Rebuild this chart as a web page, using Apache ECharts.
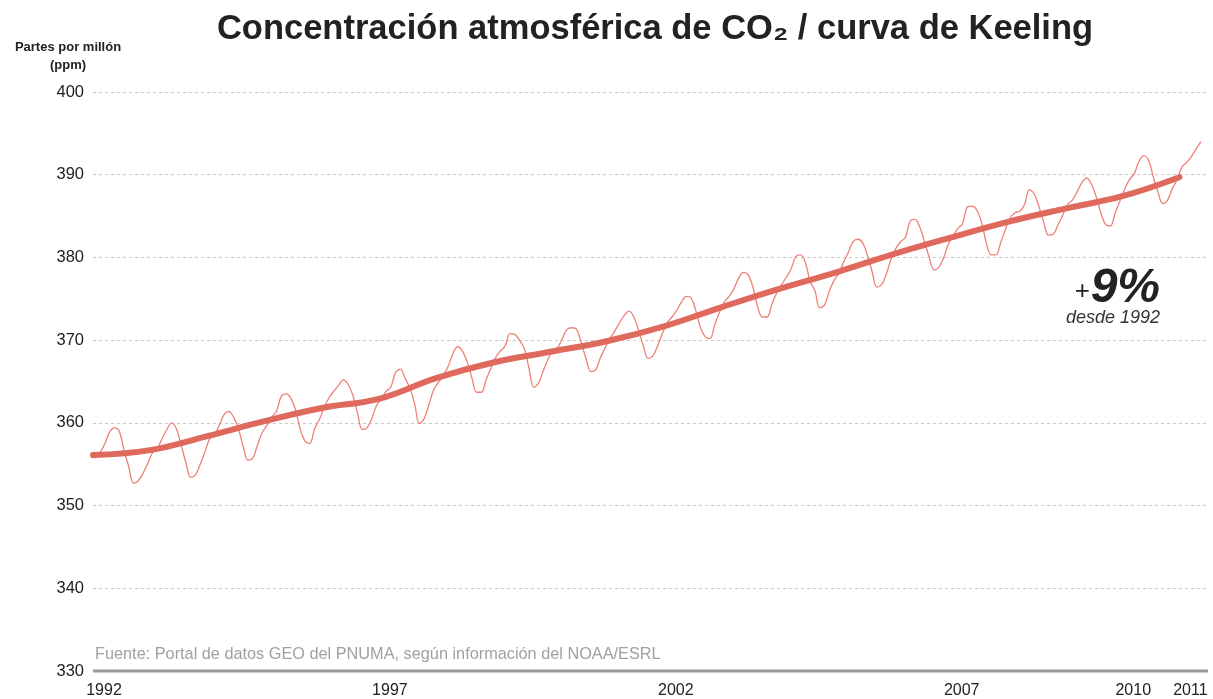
<!DOCTYPE html>
<html>
<head>
<meta charset="utf-8">
<title>Curva de Keeling</title>
<script src="https://cdn.jsdelivr.net/npm/echarts@6/dist/echarts.min.js"></script>
<style>
    html, body { margin: 0; padding: 0; background: #fff; }
    #chart { width: 1213px; height: 699px; }
</style>
</head>
<body>
<div id="chart"></div>
<script>
// años de la serie y etiquetas del eje X
var years = [1992, 1993, 1994, 1995, 1996, 1997, 1998, 1999, 2000, 2001,
             2002, 2003, 2004, 2005, 2006, 2007, 2008, 2009, 2010, 2011];
var yearLabels = [1992, 1997, 2002, 2007, 2010, 2011];
var yTicks = [330, 340, 350, 360, 370, 380, 390, 400];

// medias mensuales (ppm), una fila por año
var monthly = [
    [355.7, 356.4, 357.5, 358.9, 359.4, 359.0, 356.7, 354.7, 352.7, 353.0, 353.9, 355.1],
    [356.4, 356.9, 358.1, 359.2, 360.0, 359.3, 357.3, 355.2, 353.4, 353.7, 355.0, 356.5],
    [358.1, 358.6, 359.7, 361.0, 361.4, 360.7, 359.3, 357.2, 355.5, 355.7, 357.3, 358.8],
    [359.7, 360.7, 361.4, 363.2, 363.5, 363.0, 361.6, 359.2, 357.8, 357.5, 359.3, 360.4],
    [361.8, 363.0, 363.8, 364.5, 365.2, 364.7, 363.4, 361.2, 359.2, 359.4, 360.5, 362.1],
    [362.9, 363.8, 364.3, 366.1, 366.5, 365.4, 364.2, 362.3, 359.9, 360.5, 362.2, 364.0],
    [364.9, 365.7, 366.8, 368.3, 369.2, 368.7, 367.4, 365.5, 363.7, 363.7, 365.2, 366.6],
    [367.9, 368.7, 369.3, 370.8, 370.7, 370.0, 369.0, 366.6, 364.3, 364.8, 366.3, 367.7],
    [368.8, 369.1, 370.2, 371.3, 371.5, 371.3, 369.6, 367.7, 366.2, 366.4, 367.9, 369.1],
    [370.2, 371.1, 372.1, 373.0, 373.5, 372.8, 371.2, 369.3, 367.8, 368.1, 369.3, 370.8],
    [372.1, 372.8, 373.6, 374.6, 375.3, 375.1, 373.6, 371.5, 370.4, 370.2, 371.9, 373.4],
    [374.6, 375.3, 376.2, 377.5, 378.2, 377.9, 376.4, 374.0, 372.8, 372.8, 374.4, 375.7],
    [376.7, 377.6, 378.6, 380.1, 380.3, 379.4, 377.1, 376.0, 373.9, 374.2, 375.9, 377.2],
    [378.1, 379.4, 380.6, 381.9, 382.2, 381.8, 380.3, 378.3, 376.4, 376.7, 378.0, 379.8],
    [381.1, 381.9, 382.4, 384.4, 384.6, 383.7, 381.9, 380.0, 378.5, 378.8, 379.9, 381.6],
    [382.6, 383.5, 384.1, 386.1, 386.2, 385.7, 384.2, 381.7, 380.3, 380.3, 381.8, 383.4],
    [384.8, 385.4, 385.6, 386.4, 388.2, 387.7, 386.2, 384.3, 382.7, 382.8, 383.9, 385.1],
    [386.4, 386.9, 387.9, 389.0, 389.6, 388.9, 387.4, 385.4, 384.0, 383.8, 385.3, 386.8],
    [388.2, 389.4, 390.1, 391.6, 392.3, 391.8, 389.8, 387.9, 386.5, 386.9, 388.3, 389.4],
    [390.9, 391.5, 392.2, 393.1, 394.0]
];

// tendencia (media móvil) al 1 de enero de cada año
var trend = [356.1, 356.7, 358.4, 360.2, 361.8, 362.9, 365.4, 367.3, 368.6, 369.9,
             371.7, 374.0, 376.2, 378.2, 380.4, 382.4, 384.3, 385.9, 387.4, 389.7];

var chart = echarts.init(document.getElementById('chart'));

// datos [año decimal, ppm]
var monthlyData = [];
for (var i = 0; i < monthly.length; i++) {
    for (var m = 0; m < monthly[i].length; m++) {
        monthlyData.push([years[i] + (m + 0.5) / 12, monthly[i][m]]);
    }
}
var trendData = [];
for (var j = 0; j < trend.length; j++) {
    trendData.push([years[j], trend[j]]);
}

var font = 'Liberation Sans, Arial, sans-serif';

var option = {
    backgroundColor: '#fff',
    animation: false,
    title: {
        text: 'Concentración atmosférica de CO₂ / curva de Keeling',
        left: 650,
        top: 7,
        textAlign: 'center',
        textStyle: {
            fontFamily: font,
            fontSize: 34.5,
            fontWeight: 'bold',
            color: '#222'
        }
    },
    grid: {
        left: 93,
        right: 5,
        top: 92,
        bottom: 28,
        containLabel: false
    },
    xAxis: {
        type: 'value',
        min: 1992,
        max: 2011.5,
        interval: 1,
        axisLine: { show: false },
        axisTick: { show: false },
        splitLine: { show: false },
        axisLabel: {
            showMaxLabel: false,
            margin: 12,
            padding: [0, 0, 0, 22],
            fontFamily: font,
            fontSize: 16,
            color: '#222',
            formatter: function (v) {
                return yearLabels.indexOf(Math.round(v)) >= 0 && Math.abs(v - Math.round(v)) < 0.01 ? String(Math.round(v)) : '';
            }
        }
    },
    yAxis: {
        type: 'value',
        min: yTicks[0],
        max: yTicks[yTicks.length - 1],
        interval: 10,
        axisLine: { show: false },
        axisTick: { show: false },
        axisLabel: {
            margin: 9,
            fontFamily: font,
            fontSize: 16.5,
            color: '#222'
        },
        splitLine: {
            show: true,
            lineStyle: { color: '#c8c8c8', type: [3, 3], width: 1 }
        }
    },
    graphic: [
        {
            type: 'text',
            style: {
                x: 68,
                y: 38,
                text: 'Partes por millón\n(ppm)',
                align: 'center',
                fontFamily: font,
                fontSize: 13,
                fontWeight: 'bold',
                lineHeight: 18,
                fill: '#222'
            }
        },
        {
            type: 'line',
            shape: { x1: 93, y1: 671, x2: 1208, y2: 671 },
            style: { stroke: '#999', lineWidth: 3 },
            z: 10
        },
        {
            type: 'text',
            style: {
                x: 95,
                y: 647,
                text: 'Fuente: Portal de datos GEO del PNUMA, según información del NOAA/ESRL',
                fontFamily: font,
                fontSize: 16.3,
                fill: '#a0a0a0'
            }
        },
        {
            type: 'text',
            style: {
                x: 1090,
                y: 292,
                text: '+',
                align: 'right',
                verticalAlign: 'middle',
                fontFamily: font,
                fontSize: 26,
                fill: '#222'
            }
        },
        {
            type: 'text',
            style: {
                x: 1160,
                y: 313,
                text: '9%',
                align: 'right',
                verticalAlign: 'bottom',
                fontFamily: font,
                fontSize: 48,
                fontWeight: 'bold',
                fontStyle: 'italic',
                fill: '#222'
            }
        },
        {
            type: 'text',
            style: {
                x: 1160,
                y: 309,
                text: 'desde 1992',
                align: 'right',
                fontFamily: font,
                fontSize: 18,
                fontStyle: 'italic',
                fill: '#333'
            }
        }
    ],
    series: [
        {
            name: 'mensual',
            type: 'line',
            data: monthlyData,
            smooth: 0.35,
            showSymbol: false,
            lineStyle: { color: '#ed8177', width: 1.3 },
            z: 2
        },
        {
            name: 'tendencia',
            type: 'line',
            data: trendData,
            smooth: 0.4,
            showSymbol: false,
            lineStyle: { color: '#e0695d', width: 6, cap: 'round' },
            z: 3
        }
    ]
};

chart.setOption(option);
</script>
</body>
</html>
